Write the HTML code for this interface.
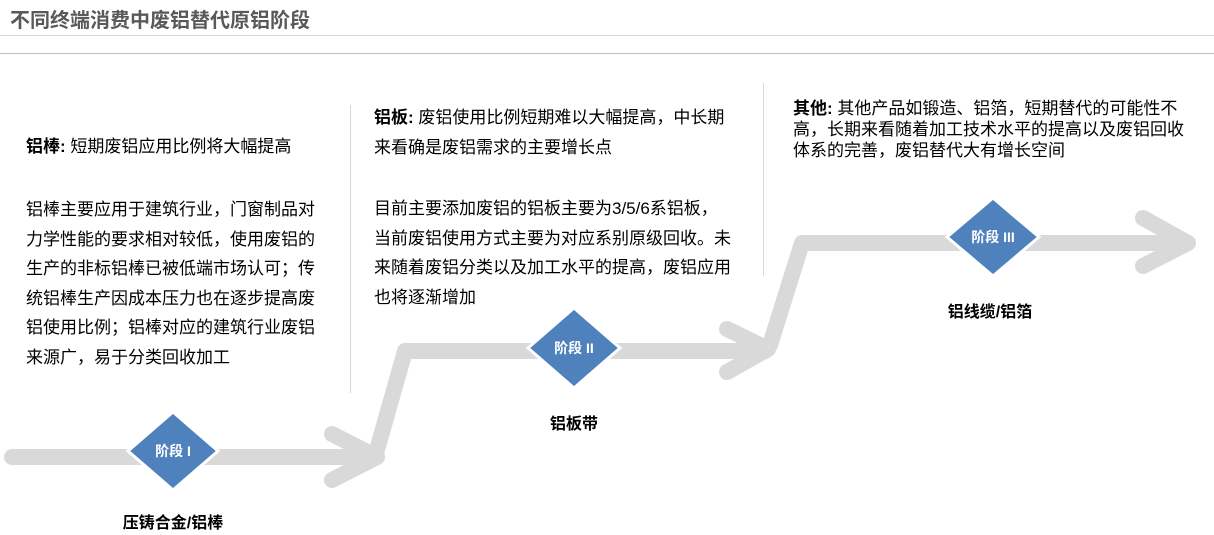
<!DOCTYPE html>
<html><head><meta charset="utf-8"><style>
body{margin:0;width:1214px;height:535px;background:#fff;position:relative;overflow:hidden;font-family:"Liberation Sans","Noto Sans CJK SC",sans-serif;}
.t{position:absolute;font-size:17px;line-height:29.5px;color:#000;white-space:nowrap;}
.lab{position:absolute;font-size:16px;font-weight:bold;color:#000;text-align:center;width:200px;}
</style></head><body>
<div style="position:absolute;left:10px;top:4px;font-size:20px;font-weight:bold;color:#595959;">不同终端消费中废铝替代原铝阶段</div>
<div style="position:absolute;left:0;top:35px;width:1214px;height:1px;background:#d9d9d9"></div>
<div style="position:absolute;left:0;top:53px;width:1214px;height:1px;background:#bfbfbf"></div>
<div style="position:absolute;left:350px;top:105px;width:1px;height:288px;background:#d9d9d9"></div>
<div style="position:absolute;left:763px;top:83px;width:1px;height:193px;background:#d9d9d9"></div>
<svg width="1214" height="535" style="position:absolute;left:0;top:0">
<g fill="none" stroke="#d9d9d9" stroke-width="16" stroke-linecap="round" stroke-linejoin="round">
<polyline points="12,457 377,457"/>
<polyline points="332,434 377,457 332,480"/>
<polyline points="377,450 405,351 765,351"/>
<polyline points="727,329 768,349 727,372"/>
<polyline points="770,345 802,243 1185,243"/>
<polyline points="1143,218 1188,243 1143,266"/>
</g>
<g fill="#4f81bd" stroke="#fff" stroke-width="3">
<polygon points="173,412 218,451 173,490 128,451"/>
<polygon points="574,308 620,348 574,388 528,348"/>
<polygon points="993,198 1039,237 993,276 947,237"/>
</g>
<g fill="#fff" font-size="14" font-weight="bold" text-anchor="middle" font-family="Liberation Sans,Noto Sans CJK SC,sans-serif">
<text x="173" y="456">阶段 I</text>
<text x="574" y="353">阶段 II</text>
<text x="993" y="242">阶段 III</text>
</g>
</svg>
<div class="lab" style="left:73px;top:509px">压铸合金/铝棒</div>
<div class="lab" style="left:474px;top:410px">铝板带</div>
<div class="lab" style="left:890px;top:298px">铝线缆/铝箔</div>
<div class="t" style="left:26px;top:132px"><b>铝棒:</b> 短期废铝应用比例将大幅提高</div>
<div class="t" style="left:26px;top:195px">铝棒主要应用于建筑行业，门窗制品对<br>力学性能的要求相对较低，使用废铝的<br>生产的非标铝棒已被低端市场认可；传<br>统铝棒生产因成本压力也在逐步提高废<br>铝使用比例；铝棒对应的建筑行业废铝<br>来源广，易于分类回收加工</div>
<div class="t" style="left:374px;top:103px"><b>铝板:</b> 废铝使用比例短期难以大幅提高，中长期<br>来看确是废铝需求的主要增长点</div>
<div class="t" style="left:374px;top:194px">目前主要添加废铝的铝板主要为3/5/6系铝板，<br>当前废铝使用方式主要为对应系别原级回收。未<br>来随着废铝分类以及加工水平的提高，废铝应用<br>也将逐渐增加</div>
<div class="t" style="left:793px;top:98px;line-height:21px"><b>其他:</b> 其他产品如锻造、铝箔，短期替代的可能性不<br>高，长期来看随着加工技术水平的提高以及废铝回收<br>体系的完善，废铝替代大有增长空间</div>
</body></html>
